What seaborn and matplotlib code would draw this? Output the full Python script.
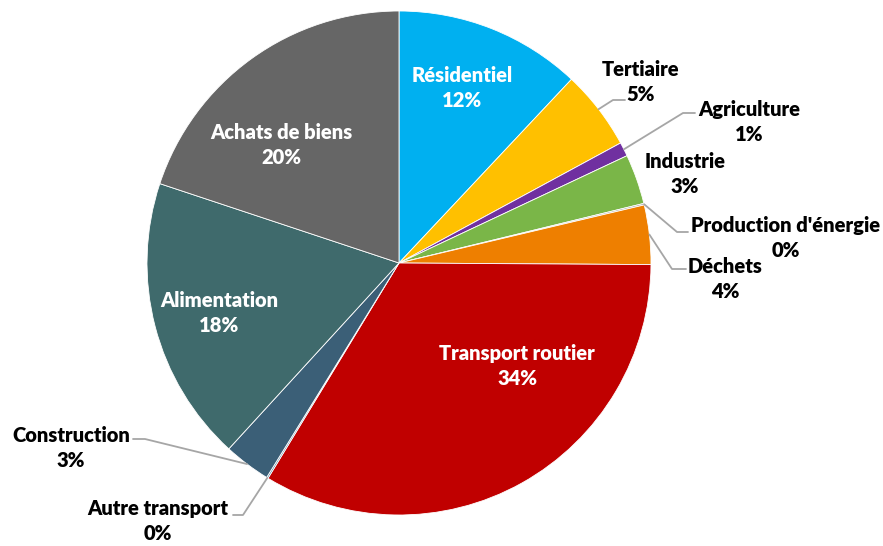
import numpy as np
import matplotlib
matplotlib.use("Agg")
import matplotlib.pyplot as plt
import seaborn as sns

sns.set_theme(style="white")
plt.rcParams['font.family'] = ['Lato', 'DejaVu Sans']

categories = ["Résidentiel", "Tertiaire", "Agriculture", "Industrie", "Production d'énergie",
              "Déchets", "Transport routier", "Autre transport", "Construction",
              "Alimentation", "Achats de biens"]
values = [12.0, 5.1, 0.9, 3.2, 0.1, 3.8, 33.6, 0.1, 3.0, 18.3, 19.9]
pct_labels = ["12%", "5%", "1%", "3%", "0%", "4%", "34%", "0%", "3%", "18%", "20%"]
colors = ["#00B0F0", "#FFC000", "#7030A0", "#7AB648", "#A5A5A5", "#EE7F00",
          "#C00000", "#4A7EA0", "#3B5F77", "#3F6A6C", "#666666"]

W, H = 883, 546
fig = plt.figure(figsize=(W / 100, H / 100), dpi=100)
ax = fig.add_axes([0, 0, 1, 1])
cx, cy, R = 399, H - 263, 252
wedges, _ = ax.pie(values, colors=colors, startangle=90, counterclock=False,
                   center=(cx, cy), radius=R,
                   wedgeprops=dict(edgecolor="white", linewidth=0.6))
ax.set_xlim(0, W)
ax.set_ylim(0, H)
ax.set_aspect("equal")
ax.axis("off")

# label placement (pixel coords, top-origin): (x, y, color, leader points)
label_pos = {
    "Résidentiel": (462, 88, "white", None),
    "Tertiaire": (641, 82, "black", [(625, 100), (613, 100)]),
    "Agriculture": (749, 122, "black", [(695, 113), (683, 113)]),
    "Industrie": (685, 174, "black", None),
    "Production d'énergie": (786, 238, "black", [(688, 232), (677, 232)]),
    "Déchets": (725, 279, "black", [(686, 269), (672, 269)]),
    "Transport routier": (517, 366, "white", None),
    "Autre transport": (158, 521, "black", [(233, 515), (243, 515)]),
    "Construction": (71, 448, "black", [(133, 439), (145, 439)]),
    "Alimentation": (219, 313, "white", None),
    "Achats de biens": (281, 145, "white", None),
}

for w, cat, pct in zip(wedges, categories, pct_labels):
    x, y, col, leader = label_pos[cat]
    ax.text(x, H - y, f"{cat}\n{pct}", ha="center", va="center", color=col,
            fontsize=14.5, fontweight="heavy", linespacing=1.42)
    if leader:
        ang = np.deg2rad((w.theta1 + w.theta2) / 2)
        ex, ey = cx + R * np.cos(ang), cy + R * np.sin(ang)
        xs = [p[0] for p in leader] + [ex]
        ys = [H - p[1] for p in leader] + [ey]
        ax.plot(xs, ys, color="#A6A6A6", linewidth=1.3)

fig.savefig("out.png", dpi=100)
